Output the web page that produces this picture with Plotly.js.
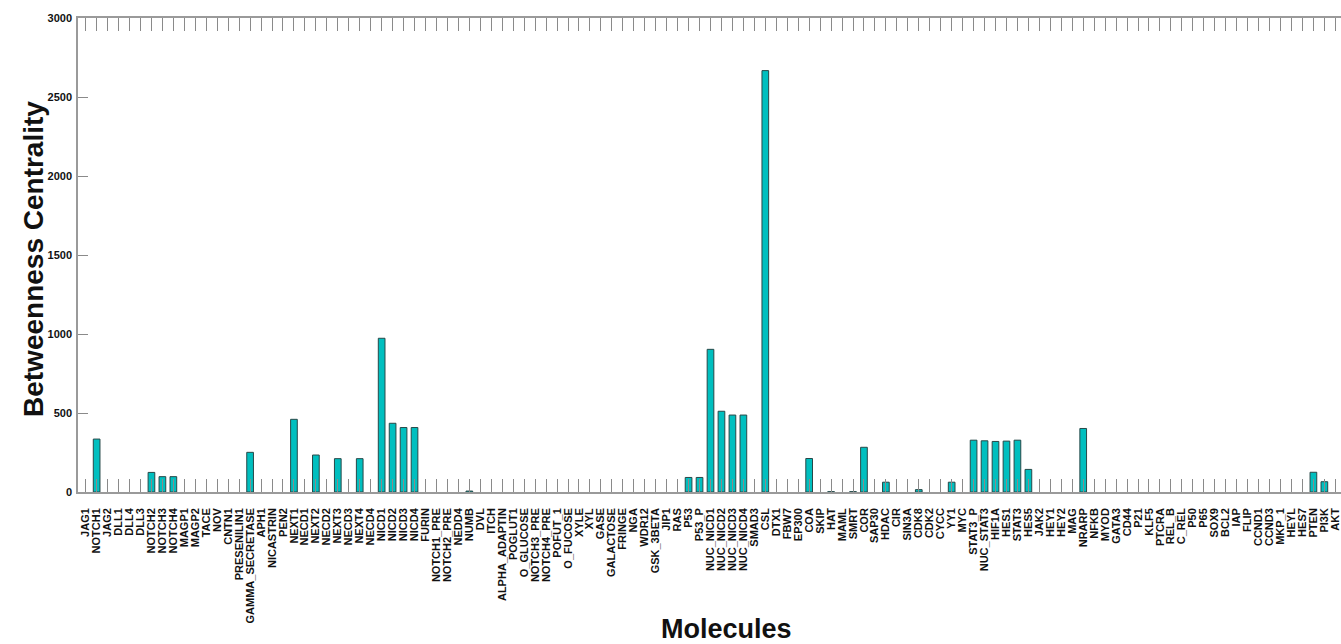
<!DOCTYPE html>
<html>
<head>
<meta charset="utf-8">
<script src="https://cdn.plot.ly/plotly-3.0.1.min.js"></script>
<style>
html, body { margin: 0; padding: 0; overflow: hidden; background: #fff; }
#chart { width: 1345px; height: 644px; }
</style>
</head>
<body>
<div id="chart"></div>
<script>
const molecules = ["JAG1","NOTCH1","JAG2","DLL1","DLL4","DLL3","NOTCH2","NOTCH3","NOTCH4","MAGP1",
"MAGP2","TACE","NOV","CNTN1","PRESENILIN1","GAMMA_SECRETASE","APH1","NICASTRIN","PEN2","NEXT1",
"NECD1","NEXT2","NECD2","NEXT3","NECD3","NEXT4","NECD4","NICD1","NICD2","NICD3",
"NICD4","FURIN","NOTCH1_PRE","NOTCH2_PRE","NEDD4","NUMB","DVL","ITCH","ALPHA_ADAPTIN","POGLUT1",
"O_GLUCOSE","NOTCH3_PRE","NOTCH4_PRE","POFUT_1","O_FUCOSE","XYLE","XYL","GASE","GALACTOSE","FRINGE",
"NGA","WDR12","GSK_3BETA","JIP1","RAS","P53","P53_P","NUC_NICD1","NUC_NICD2","NUC_NICD3",
"NUC_NICD4","SMAD3","CSL","DTX1","FBW7","EP300","COA","SKIP","HAT","MAML",
"SMRT","COR","SAP30","HDAC","CIR","SIN3A","CDK8","CDK2","CYCC","YY1",
"MYC","STAT3_P","NUC_STAT3","HIF1A","HES1","STAT3","HES5","JAK2","HEY1","HEY2",
"MAG","NRARP","NFKB","MYOD","GATA3","CD44","P21","KLF5","PTCRA","REL_B",
"C_REL","P50","P65","SOX9","BCL2","IAP","FLIP","CCND1","CCND3","MKP_1",
"HEYL","HES7","PTEN","PI3K","AKT"];

const betweenness = [0,335,0,0,0,0,124,97,97,0,
0,0,0,0,0,251,0,0,0,460,
0,234,0,211,0,211,0,973,435,408,
408,0,0,0,0,6,0,0,0,0,
0,0,0,0,0,0,0,0,0,0,
0,0,0,0,0,92,92,903,511,487,
487,0,2667,0,0,0,212,0,2,0,
2,283,0,62,0,0,15,0,0,62,
0,328,324,320,322,328,143,0,0,0,
0,402,0,0,0,0,0,0,0,0,
0,0,0,0,0,0,0,0,0,0,
0,0,125,65,0];

const yTicks = [0,500,1000,1500,2000,2500,3000];
const yTickText = ["0","500","1000","1500","2000","2500","3000"];

const boldFont = (size) => ({ family: "Liberation Sans, Arial, Helvetica, sans-serif", size: size, color: "#111", weight: "bold" });

const trace = {
  type: "bar",
  x: molecules,
  y: betweenness,
  marker: {
    color: "#00BFBF",
    line: { color: "#274848", width: betweenness.map(v => (v > 0 ? 1 : 0)) }
  },
  hoverinfo: "x+y"
};

const layout = {
  width: 1345,
  height: 644,
  margin: { l: 78, r: 2, t: 18, b: 152, pad: 0 },
  paper_bgcolor: "#ffffff",
  plot_bgcolor: "#ffffff",
  bargap: 0.39,
  showlegend: false,
  xaxis: {
    type: "category",
    range: [-0.7, 114.7],
    tickmode: "array",
    tickvals: molecules,
    ticktext: molecules,
    ticks: "inside",
    ticklen: 13,
    tickwidth: 1,
    tickcolor: "#8a8a8a",
    showline: true,
    linecolor: "#9a9a9a",
    linewidth: 1.5,
    mirror: "ticks",
    showgrid: false,
    zeroline: false,
    tickangle: -90,
    tickfont: boldFont(11),
    ticklabelstandoff: 10,
    automargin: false
  },
  yaxis: {
    range: [0, 3000],
    tickmode: "array",
    tickvals: yTicks,
    ticktext: yTickText,
    ticks: "inside",
    ticklen: 10,
    tickwidth: 1,
    tickcolor: "#8a8a8a",
    showline: true,
    linecolor: "#9a9a9a",
    linewidth: 1.5,
    mirror: false,
    showgrid: false,
    zeroline: false,
    tickfont: boldFont(11),
    ticklabelstandoff: 2,
    automargin: false
  },
  annotations: [
    {
      text: "Betweenness Centrality",
      xref: "paper", yref: "paper",
      x: (33 - 78) / 1265, y: (492 - 259) / 474,
      xanchor: "center", yanchor: "middle",
      textangle: -90, showarrow: false,
      font: boldFont(28)
    },
    {
      text: "Molecules",
      xref: "paper", yref: "paper",
      x: (726 - 78) / 1265, y: (492 - 629) / 474,
      xanchor: "center", yanchor: "middle",
      showarrow: false,
      font: boldFont(27)
    }
  ]
};

Plotly.newPlot("chart", [trace], layout, { displayModeBar: false, responsive: false });
</script>
</body>
</html>
